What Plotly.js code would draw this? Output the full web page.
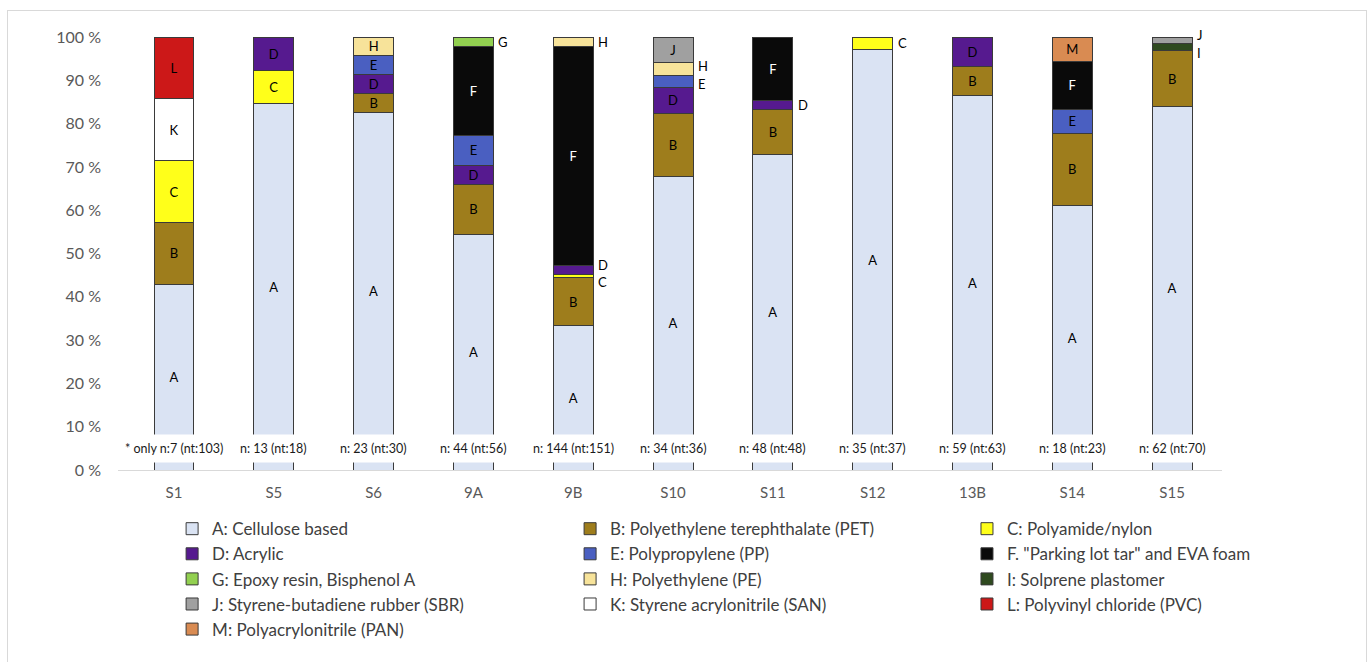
<!DOCTYPE html>
<html>
<head>
<meta charset="utf-8">
<script src="https://cdn.plot.ly/plotly-3.0.1.min.js"></script>
<style>
  html, body { margin: 0; padding: 0; background: #fff; }
  #wrap { position: relative; width: 1368px; height: 662px; overflow: hidden; }
  #chart { width: 1368px; height: 662px; }
  #frame { position: absolute; left: 7px; top: 10px; width: 1358px; height: 700px;
           border: 1px solid #d9d9d9; pointer-events: none; }
</style>
</head>
<body>
<div id="wrap"><div id="chart"></div><div id="frame"></div></div>
<script>
// ---- data (percent of particles per sample) ----
const categories = ['S1','S5','S6','9A','9B','S10','S11','S12','13B','S14','S15'];
const sampleLabels = ['* only n:7 (nt:103)','n: 13 (nt:18)','n: 23 (nt:30)','n: 44 (nt:56)',
  'n: 144 (nt:151)','n: 34 (nt:36)','n: 48 (nt:48)','n: 35 (nt:37)','n: 59 (nt:63)',
  'n: 18 (nt:23)','n: 62 (nt:70)'];
const seriesCodes = ['A','B','C','D','E','F','G','H','I','J','K','L','M'];
const seriesNames = ['A: Cellulose based','B: Polyethylene terephthalate (PET)','C: Polyamide/nylon',
  'D: Acrylic','E: Polypropylene (PP)','F. "Parking lot tar" and EVA foam',
  'G: Epoxy resin, Bisphenol A','H: Polyethylene (PE)','I: Solprene plastomer',
  'J: Styrene-butadiene rubber (SBR)','K: Styrene acrylonitrile (SAN)','L: Polyvinyl chloride (PVC)',
  'M: Polyacrylonitrile (PAN)'];
const seriesA = [42.9, 84.6, 82.6, 54.5, 33.3, 67.7, 72.9, 97.1, 86.4, 61.1, 83.9];
const seriesB = [14.3, 0, 4.35, 11.4, 11.1, 14.7, 10.4, 0, 6.8, 16.7, 12.9];
const seriesC = [14.2, 7.7, 0, 0, 0.7, 0, 0, 2.9, 0, 0, 0];
const seriesD = [0, 7.7, 4.35, 4.5, 2.1, 5.9, 2.1, 0, 6.8, 0, 0];
const seriesE = [0, 0, 4.35, 6.8, 0, 2.9, 0, 0, 0, 5.5, 0];
const seriesF = [0, 0, 0, 20.5, 50.7, 0, 14.6, 0, 0, 11.1, 0];
const seriesG = [0, 0, 0, 2.3, 0, 0, 0, 0, 0, 0, 0];
const seriesH = [0, 0, 4.35, 0, 2.1, 2.9, 0, 0, 0, 0, 0];
const seriesI = [0, 0, 0, 0, 0, 0, 0, 0, 0, 0, 1.6];
const seriesJ = [0, 0, 0, 0, 0, 5.9, 0, 0, 0, 0, 1.6];
const seriesK = [14.3, 0, 0, 0, 0, 0, 0, 0, 0, 0, 0];
const seriesL = [14.3, 0, 0, 0, 0, 0, 0, 0, 0, 0, 0];
const seriesM = [0, 0, 0, 0, 0, 0, 0, 0, 0, 5.6, 0];
const yTicks = [0,10,20,30,40,50,60,70,80,90,100];
const yTickText = yTicks.map(v => v + ' %');

// ---- styling ----
const allSeries = [seriesA,seriesB,seriesC,seriesD,seriesE,seriesF,seriesG,seriesH,seriesI,seriesJ,seriesK,seriesL,seriesM];
const colors = ['#dae3f3','#9e7d1c','#ffff1a','#561a8f','#4a5fc1','#0a0a0a','#92d050',
                '#f7e39a','#2f4a1f','#a0a0a0','#ffffff','#cc1818','#d98b52'];
const FONT = 'Lato, "Open Sans", "Liberation Sans", sans-serif';
const SMALL = 3.5; // segments smaller than this get their letter outside the bar
const legendIds = ['legend', 'legend2', 'legend3'];

const traces = allSeries.map((vals, i) => ({
  type: 'bar',
  name: seriesNames[i],
  legend: legendIds[i % 3],
  x: categories,
  y: vals.map(v => v > 0 ? v : null),
  text: vals.map(v => (v >= SMALL ? seriesCodes[i] : '')),
  textposition: 'inside',
  insidetextanchor: 'middle',
  textangle: 0,
  constraintext: 'none',
  textfont: { family: FONT, size: 13, color: seriesCodes[i] === 'F' ? '#ffffff' : '#000000' },
  marker: { color: colors[i], line: { color: '#3a3a3a', width: 1 } },
  width: 0.4,
  hoverinfo: 'none'
}));

// outside labels for thin segments, with simple de-overlap per bar
const PLOT_H = 433;
const annotations = [];
categories.forEach((cat, ci) => {
  let cum = 0;
  const labs = [];
  allSeries.forEach((vals, si) => {
    const v = vals[ci];
    if (v > 0 && v < SMALL) labs.push({ y: cum + v / 2, t: seriesCodes[si] });
    cum += v;
  });
  const minSep = 4.0;
  for (let k = 1; k < labs.length; k++) {
    const gap = labs[k].y - labs[k - 1].y;
    if (gap < minSep) {
      const mid = (labs[k].y + labs[k - 1].y) / 2;
      labs[k - 1].y = mid - minSep / 2;
      labs[k].y = mid + minSep / 2;
    }
  }
  labs.forEach(l => {
    const yy = Math.min(l.y, 100);
    annotations.push({
      x: cat, y: yy, xref: 'x', yref: 'y', text: l.t, showarrow: false,
      xanchor: 'left', yanchor: 'middle', xshift: 24, borderpad: 0,
      yshift: (l.y - yy) * PLOT_H / 100,
      font: { family: FONT, size: 13, color: '#000' }
    });
  });
  annotations.push({
    x: cat, y: 5.0, xref: 'x', yref: 'y', text: sampleLabels[ci], showarrow: false,
    xanchor: 'center', yanchor: 'middle', bgcolor: '#ffffff', borderpad: 6,
    font: { family: FONT, size: 12.5, color: '#1a1a1a' }
  });
});

function legendAt(x) {
  return {
    orientation: 'v', x: x, xanchor: 'left', y: -0.095, yanchor: 'top',
    traceorder: 'normal', bgcolor: 'rgba(0,0,0,0)', borderwidth: 0,
    font: { family: FONT, size: 17, color: '#404040' }
  };
}

const layout = {
  width: 1368, height: 662,
  margin: { l: 118, r: 146, t: 37, b: 192, autoexpand: false },
  barmode: 'stack',
  paper_bgcolor: '#ffffff', plot_bgcolor: '#ffffff',
  font: { family: FONT, color: '#595959' },
  showlegend: true,
  legend: legendAt(0.049),
  legend2: legendAt(0.4095),
  legend3: legendAt(0.769),
  xaxis: {
    type: 'category', showgrid: false, zeroline: false,
    showline: true, linecolor: '#d9d9d9', linewidth: 1,
    ticks: '', ticklabelstandoff: 9,
    tickfont: { family: FONT, size: 15, color: '#595959' }
  },
  yaxis: {
    range: [0, 100], tickmode: 'array', tickvals: yTicks, ticktext: yTickText,
    showgrid: false, zeroline: false, showline: false, ticks: '',
    ticklabelstandoff: 16,
    tickfont: { family: FONT, size: 16, color: '#595959' }
  },
  annotations: annotations
};

Plotly.newPlot('chart', traces, layout, { staticPlot: true, displayModeBar: false });
</script>
</body>
</html>
